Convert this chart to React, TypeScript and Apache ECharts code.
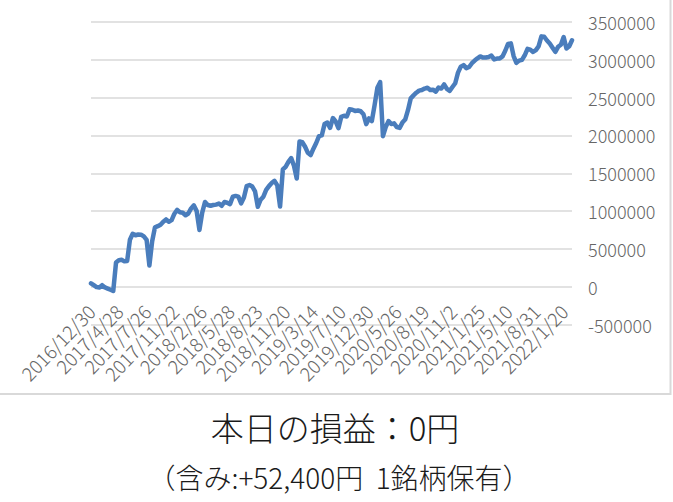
import React, { useEffect, useRef } from "react";
import * as echarts from "echarts";

// Tick labels of the category axis (one every 10 trade points)
const tickLabels = [
  "2016/12/30", "2017/4/28", "2017/7/26", "2017/11/22", "2018/2/26", "2018/5/28",
  "2018/8/23", "2018/11/20", "2019/3/14", "2019/7/10", "2019/12/30", "2020/5/26",
  "2020/8/19", "2020/11/2", "2021/1/25", "2021/5/10", "2021/8/31", "2022/1/20",
];
const pointsPerLabel = 10;

// Cumulative profit (yen)
const profit2017a = [
  45000, 20000, -5000, -10000, 20000, -10000, -25000, -40000, -57000, 320000,
  350000, 355000, 335000, 340000, 620000, 700000, 680000, 690000, 688000, 665000,
  620000, 280000, 600000, 785000, 800000, 820000, 860000, 890000, 860000, 880000,
];
const profit2018 = [
  965000, 1015000, 985000, 978000, 945000, 968000, 1035000, 1075000, 1000000, 750000,
  980000, 1120000, 1080000, 1070000, 1080000, 1085000, 1100000, 1070000, 1120000, 1110000,
  1092000, 1190000, 1200000, 1190000, 1101000, 1180000, 1330000, 1345000, 1325000, 1260000,
];
const profit2019 = [
  1057000, 1150000, 1190000, 1280000, 1330000, 1370000, 1400000, 1340000, 1060000, 1550000,
  1585000, 1650000, 1700000, 1600000, 1430000, 1920000, 1910000, 1850000, 1770000, 1740000,
  1825000, 1900000, 1990000, 2000000, 2150000, 2170000, 2100000, 2230000, 2185000, 2095000,
];
const profit2020 = [
  2245000, 2260000, 2250000, 2345000, 2340000, 2324000, 2330000, 2320000, 2280000, 2150000,
  2225000, 2190000, 2400000, 2630000, 2705000, 1990000, 2110000, 2190000, 2150000, 2160000,
  2110000, 2100000, 2170000, 2210000, 2334000, 2490000, 2530000, 2565000, 2592000, 2600000,
];
const profit2021 = [
  2620000, 2630000, 2600000, 2605000, 2578000, 2633000, 2620000, 2675000, 2615000, 2590000,
  2640000, 2690000, 2830000, 2910000, 2930000, 2890000, 2905000, 2955000, 2990000, 3020000,
  3045000, 3030000, 3030000, 3038000, 3055000, 3005000, 3017000, 3017000, 3045000, 3120000,
];
const profit2022 = [
  3210000, 3218000, 3050000, 2960000, 2990000, 3000000, 3060000, 3145000, 3135000, 3104000,
  3128000, 3180000, 3310000, 3305000, 3255000, 3215000, 3160000, 3105000, 3172000, 3200000,
  3300000, 3150000, 3180000, 3258000,
];
const profit = [
  ...profit2017a, ...profit2018, ...profit2019, ...profit2020, ...profit2021, ...profit2022,
];

const yMin = -500000;
const yMax = 3500000;
const yStep = 500000;

const titleText = "本日の損益：0円";
const subText = "（含み:+52,400円  1銘柄保有）";

export default function App() {
  const ref = useRef<HTMLDivElement>(null);
  useEffect(() => {
    document.body.style.margin = "0";
    if (!ref.current) return;
    const chart = echarts.init(ref.current, null, { renderer: "svg" });
    const categories = profit.map((_, i) => String(i));
    chart.setOption({
      animation: false,
      backgroundColor: "#ffffff",
      grid: { left: 91, right: 101, top: 22, bottom: 177.5, containLabel: false },
      xAxis: {
        type: "category",
        data: categories,
        boundaryGap: false,
        axisLine: { show: false, onZero: false },
        axisTick: { show: false },
        axisLabel: {
          interval: (index: number) => index % pointsPerLabel === 0,
          formatter: (_v: string, index: number) =>
            index % pointsPerLabel === 0 ? tickLabels[index / pointsPerLabel] ?? "" : "",
          rotate: 46,
          margin: -17,
          color: "#666666",
          fontSize: 19,
          fontWeight: 300,
          fontFamily: "Noto Sans CJK JP",
        },
        splitLine: { show: false },
      },
      yAxis: {
        type: "value",
        position: "right",
        min: yMin,
        max: yMax,
        interval: yStep,
        axisLine: { show: false },
        axisTick: { show: false },
        axisLabel: {
          margin: 16,
          color: "#666666",
          fontSize: 18,
          fontWeight: 300,
          fontFamily: "Noto Sans CJK JP",
          formatter: (v: number) => String(v),
        },
        splitLine: { lineStyle: { color: "#d9d9d9", width: 1.5 } },
      },
      series: [
        {
          type: "line",
          data: profit,
          showSymbol: false,
          symbol: "none",
          lineStyle: { color: "#4a7dbc", width: 4.5, join: "round", cap: "round" },
        },
      ],
      graphic: [
        {
          type: "rect",
          shape: { x: -1, y: -2, width: 671.5, height: 396 },
          style: { fill: "none", stroke: "#d9d9d9", lineWidth: 2 },
          silent: true,
        },
        {
          type: "text",
          x: 335,
          y: 427,
          style: {
            text: titleText,
            fill: "#1a1a1a",
            fontSize: 33,
            fontWeight: 300,
            fontFamily: "Noto Sans CJK JP",
            textAlign: "center",
            textVerticalAlign: "middle",
          },
        },
        {
          type: "text",
          x: 339,
          y: 477,
          style: {
            text: subText,
            fill: "#1a1a1a",
            fontSize: 28,
            fontWeight: 300,
            fontFamily: "Noto Sans CJK JP",
            textAlign: "center",
            textVerticalAlign: "middle",
          },
        },
      ],
    });
    return () => chart.dispose();
  }, []);
  return <div ref={ref} style={{ width: 673, height: 502 }} />;
}
